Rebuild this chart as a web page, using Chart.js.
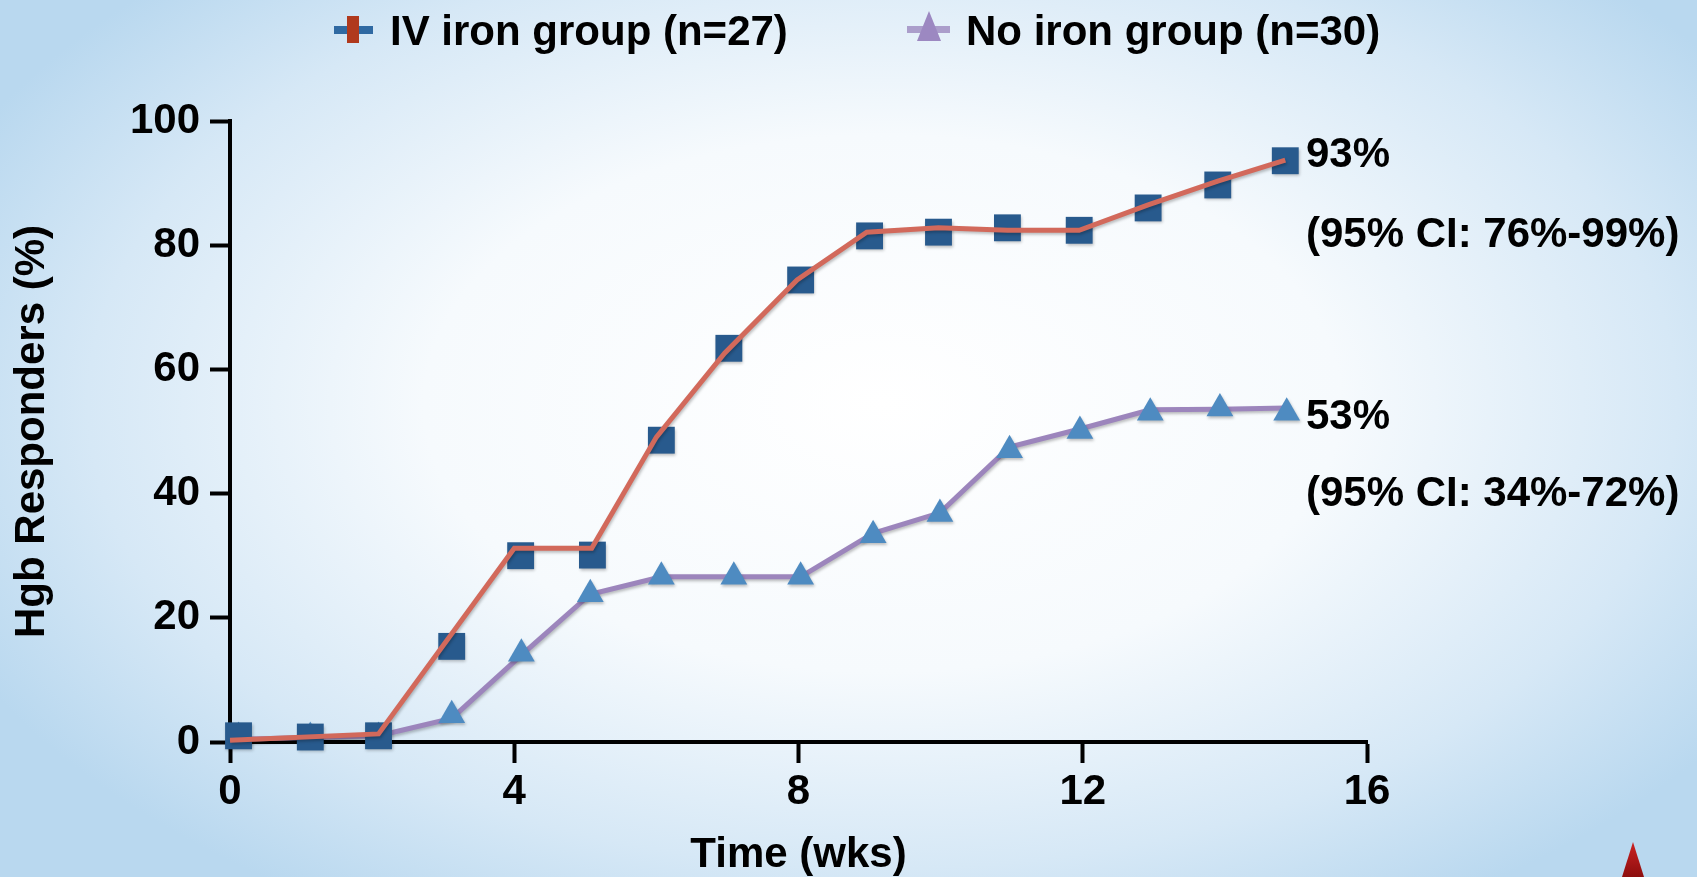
<!DOCTYPE html>
<html lang="en">
<head>
    <meta charset="UTF-8">
    <title>Hgb Responders</title>
    <style>
        html, body { margin: 0; padding: 0; }
        body {
            width: 1697px;
            height: 877px;
            overflow: hidden;
            position: relative;
            background: radial-gradient(ellipse 60% 68% at 52% 46%, #ffffff 0%, #f6fafd 45%, #d6e8f6 78%, #b9d8ef 100%);
        }
        .chart-box { position: absolute; left: 0; top: 0; width: 1697px; height: 877px; }
        .spike {
            position: absolute; left: 1622px; top: 842px; width: 22px; height: 35px;
            background: linear-gradient(#cc2222, #8c0e0e);
            clip-path: polygon(50% 0, 100% 100%, 0 100%);
        }
    </style>
</head>
<body>
    <div class="chart-box"><canvas id="myChart"></canvas></div>
    <div class="spike"></div>

    <script src="https://cdn.jsdelivr.net/npm/chart.js"></script>
    <script>
        // series labels
        const seriesLabels = ['IV iron group (n=27)', 'No iron group (n=30)'];

        // IV iron group: square markers and the connecting line
        const ivMarkWeeks = [0.12, 1.13, 2.09, 3.12, 4.09, 5.1, 6.07, 7.02, 8.03, 9.0, 9.97, 10.94, 11.95, 12.92, 13.9, 14.85];
        const ivMarkValues = [1.0, 0.8, 1.0, 15.4, 30.0, 30.1, 48.6, 63.4, 74.4, 81.5, 82.1, 82.8, 82.4, 86.0, 89.7, 93.6];
        const ivLineWeeks = [0, 2.09, 4.0, 5.09, 6.0, 6.96, 7.98, 8.96, 9.97, 10.94, 11.95, 12.92, 13.9, 14.85];
        const ivLineValues = [0.3, 1.3, 31.2, 31.2, 49.1, 62.6, 74.4, 82.1, 82.8, 82.4, 82.4, 86.5, 90.3, 93.7];

        // No iron group: triangle markers and the connecting line
        const noMarkWeeks = [0.12, 1.13, 2.09, 3.12, 4.1, 5.07, 6.07, 7.09, 8.03, 9.05, 9.99, 10.97, 11.96, 12.95, 13.93, 14.87];
        const noMarkValues = [0.8, 0.8, 0.8, 4.3, 14.2, 23.8, 26.6, 26.6, 26.6, 33.3, 36.7, 47.0, 50.1, 53.0, 53.7, 53.0];
        const noLineWeeks = [0, 2.09, 3.12, 4.1, 5.07, 6.07, 8.03, 9.05, 9.99, 10.97, 11.96, 12.95, 13.93, 14.87];
        const noLineValues = [0.4, 1.0, 3.8, 14.0, 23.8, 26.6, 26.6, 33.6, 36.9, 47.5, 50.4, 53.5, 53.6, 53.8];

        // axis ticks
        const xTicks = [0, 4, 8, 12, 16];
        const yTicks = [0, 20, 40, 60, 80, 100];

        // text to the right of the lines
        const annoLabels = ['93%', '(95% CI: 76%-99%)', '53%', '(95% CI: 34%-72%)'];
        const annoValues = [94.5, 81.6, 52.3, 39.8];

        const FONT = '"Liberation Sans", Arial, Helvetica, sans-serif';

        function pts(xs, ys) {
            return xs.map((x, i) => ({ x: x, y: ys[i] }));
        }

        const legendPlugin = {
            id: 'topLegend',
            afterDraw(chart) {
                const ctx = chart.ctx;
                ctx.save();
                // IV iron icon
                ctx.fillStyle = '#2f69a2';
                ctx.fillRect(334, 26, 39, 8);
                ctx.fillStyle = '#b0391d';
                ctx.fillRect(347, 16, 12, 27);
                // No iron icon
                ctx.fillStyle = '#ab9ecb';
                ctx.fillRect(907, 26, 43, 7);
                ctx.fillStyle = '#9c88c1';
                ctx.beginPath();
                ctx.moveTo(929, 11);
                ctx.lineTo(941, 41);
                ctx.lineTo(917, 41);
                ctx.closePath();
                ctx.fill();

                ctx.font = 'bold 42px ' + FONT;
                ctx.fillStyle = '#000';
                ctx.textBaseline = 'alphabetic';
                ctx.textAlign = 'left';
                ctx.fillText(seriesLabels[0], 390, 45);
                ctx.fillText(seriesLabels[1], 966, 45);
                ctx.restore();
            }
        };

        // soft drop shadow under the marks, like the slide
        const shadowPlugin = {
            id: 'markShadow',
            beforeDatasetDraw(chart) {
                const ctx = chart.ctx;
                ctx.save();
                ctx.shadowColor = 'rgba(0, 0, 0, 0.25)';
                ctx.shadowBlur = 3;
                ctx.shadowOffsetX = 1;
                ctx.shadowOffsetY = 2;
            },
            afterDatasetDraw(chart) {
                chart.ctx.restore();
            }
        };

        const annoPlugin = {
            id: 'sideNotes',
            afterDatasetsDraw(chart) {
                const ctx = chart.ctx;
                const xs = chart.scales.x;
                const ys = chart.scales.y;
                ctx.save();
                ctx.font = 'bold 42px ' + FONT;
                ctx.fillStyle = '#000';
                ctx.textBaseline = 'middle';
                ctx.textAlign = 'left';
                const x0 = xs.getPixelForValue(15) + 10;
                annoLabels.forEach((t, i) => {
                    ctx.fillText(t, x0, ys.getPixelForValue(annoValues[i]));
                });
                ctx.restore();
            }
        };

        const ctx = document.getElementById('myChart').getContext('2d');
        const chart = new Chart(ctx, {
            type: 'scatter',
            data: {
                datasets: [
                    {
                        label: seriesLabels[0] + ' line',
                        data: pts(ivLineWeeks, ivLineValues),
                        showLine: true,
                        borderColor: '#d2695b',
                        borderWidth: 5,
                        pointRadius: 0,
                        tension: 0,
                        clip: false
                    },
                    {
                        label: seriesLabels[0],
                        data: pts(ivMarkWeeks, ivMarkValues),
                        showLine: false,
                        pointStyle: 'rect',
                        pointRadius: 19,
                        pointBackgroundColor: '#285a8d',
                        pointBorderWidth: 0,
                        clip: false
                    },
                    {
                        label: seriesLabels[1],
                        data: pts(noMarkWeeks, noMarkValues),
                        showLine: false,
                        pointStyle: 'triangle',
                        pointRadius: 15.5,
                        pointBackgroundColor: '#4e8bc1',
                        pointBorderWidth: 0,
                        clip: false
                    },
                    {
                        label: seriesLabels[1] + ' line',
                        data: pts(noLineWeeks, noLineValues),
                        showLine: true,
                        borderColor: '#9c85bc',
                        borderWidth: 5,
                        pointRadius: 0,
                        tension: 0,
                        clip: false
                    }
                ]
            },
            options: {
                responsive: true,
                maintainAspectRatio: false,
                animation: false,
                layout: { padding: { top: 121, right: 330, left: 0, bottom: 0 } },
                plugins: {
                    legend: { display: false },
                    tooltip: { enabled: false }
                },
                scales: {
                    x: {
                        type: 'linear',
                        min: 0,
                        max: 16,
                        afterFit: function(scale) { scale.height = 135; },
                        afterBuildTicks: function(scale) { scale.ticks = xTicks.map(v => ({ value: v })); },
                        border: { display: true, color: '#000', width: 4 },
                        grid: { drawOnChartArea: false, drawTicks: true, tickLength: 21, tickColor: '#000', tickWidth: 4 },
                        ticks: { color: '#000', padding: 4, font: { family: FONT, size: 42, weight: 'bold' } },
                        title: {
                            display: true,
                            text: 'Time (wks)',
                            color: '#000',
                            padding: { top: 0, bottom: 1 },
                            font: { family: FONT, size: 42, weight: 'bold', lineHeight: 1 }
                        }
                    },
                    y: {
                        min: 0,
                        max: 100,
                        afterFit: function(scale) { scale.width = 230; },
                        afterBuildTicks: function(scale) { scale.ticks = yTicks.map(v => ({ value: v })); },
                        border: { display: true, color: '#000', width: 4 },
                        grid: { drawOnChartArea: false, drawTicks: true, tickLength: 20, tickColor: '#000', tickWidth: 4 },
                        ticks: { color: '#000', padding: 10, font: { family: FONT, size: 42, weight: 'bold' } },
                        title: {
                            display: true,
                            text: 'Hgb Responders (%)',
                            color: '#000',
                            padding: { top: 11, bottom: 0 },
                            font: { family: FONT, size: 42, weight: 'bold', lineHeight: 1 }
                        }
                    }
                }
            },
            plugins: [shadowPlugin, legendPlugin, annoPlugin]
        });
    </script>
</body>
</html>
